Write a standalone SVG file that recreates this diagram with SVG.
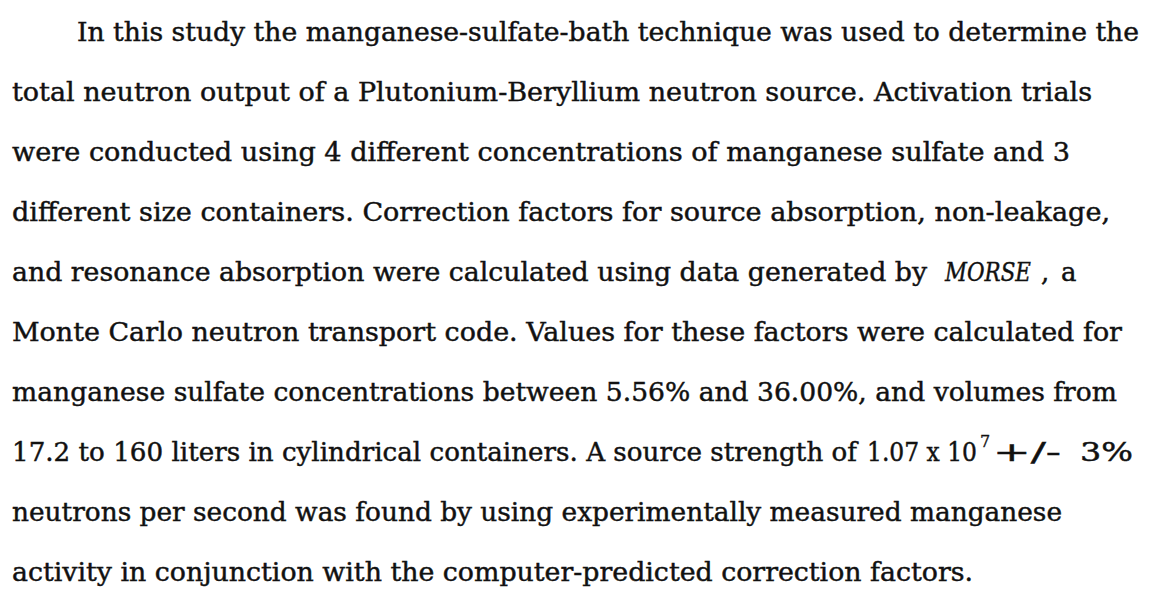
<svg xmlns="http://www.w3.org/2000/svg" width="1153" height="593" viewBox="0 0 1153 593">
<style>
.t{font-family:"DejaVu Serif","Liberation Serif",serif;font-size:26px;fill:#111;stroke:#111;stroke-width:0.45}
.i{font-style:italic}
.s{font-family:"DejaVu Serif","Liberation Serif",serif;font-size:16px;fill:#111;stroke:#111;stroke-width:0.3}
</style>
<rect width="1153" height="593" fill="#fff"/>
<g id="paragraph">
<text class="t" x="77" y="41" textLength="1062" lengthAdjust="spacingAndGlyphs">In this study the manganese-sulfate-bath technique was used to determine the</text>
<text class="t" x="12" y="101" textLength="1080" lengthAdjust="spacingAndGlyphs">total neutron output of a Plutonium-Beryllium neutron source.  Activation trials</text>
<text class="t" x="12" y="161" textLength="1058" lengthAdjust="spacingAndGlyphs">were conducted using 4 different concentrations of manganese sulfate and 3</text>
<text class="t" x="12" y="221" textLength="1098" lengthAdjust="spacingAndGlyphs">different size containers.  Correction factors for source absorption, non-leakage,</text>
<text class="t" x="12" y="281" textLength="915" lengthAdjust="spacingAndGlyphs">and resonance absorption were calculated using data generated by</text>
<text class="t i" x="945" y="281" textLength="86" lengthAdjust="spacingAndGlyphs">MORSE</text>
<text class="t" x="1041" y="281">,</text>
<text class="t" x="1061" y="281">a</text>
<text class="t" x="12" y="341" textLength="1110" lengthAdjust="spacingAndGlyphs">Monte Carlo neutron transport code.  Values for these factors were calculated for</text>
<text class="t" x="12" y="401" textLength="1105" lengthAdjust="spacingAndGlyphs">manganese sulfate concentrations between 5.56% and 36.00%, and volumes from</text>
<text class="t" x="12" y="461" textLength="845" lengthAdjust="spacingAndGlyphs">17.2 to 160 liters in cylindrical containers. A source strength of</text>
<text class="t" x="867" y="461" textLength="110" lengthAdjust="spacingAndGlyphs">1.07 x 10</text>
<text class="s" x="980" y="447">7</text>
<text class="t" x="993" y="461" textLength="68" lengthAdjust="spacingAndGlyphs">+/-</text>
<text class="t" x="1080" y="461" textLength="53" lengthAdjust="spacingAndGlyphs">3%</text>
<text class="t" x="12" y="521" textLength="1050" lengthAdjust="spacingAndGlyphs">neutrons per second was found by using experimentally measured manganese</text>
<text class="t" x="12" y="581" textLength="961" lengthAdjust="spacingAndGlyphs">activity in conjunction with the computer-predicted correction factors.</text>
</g>
</svg>
